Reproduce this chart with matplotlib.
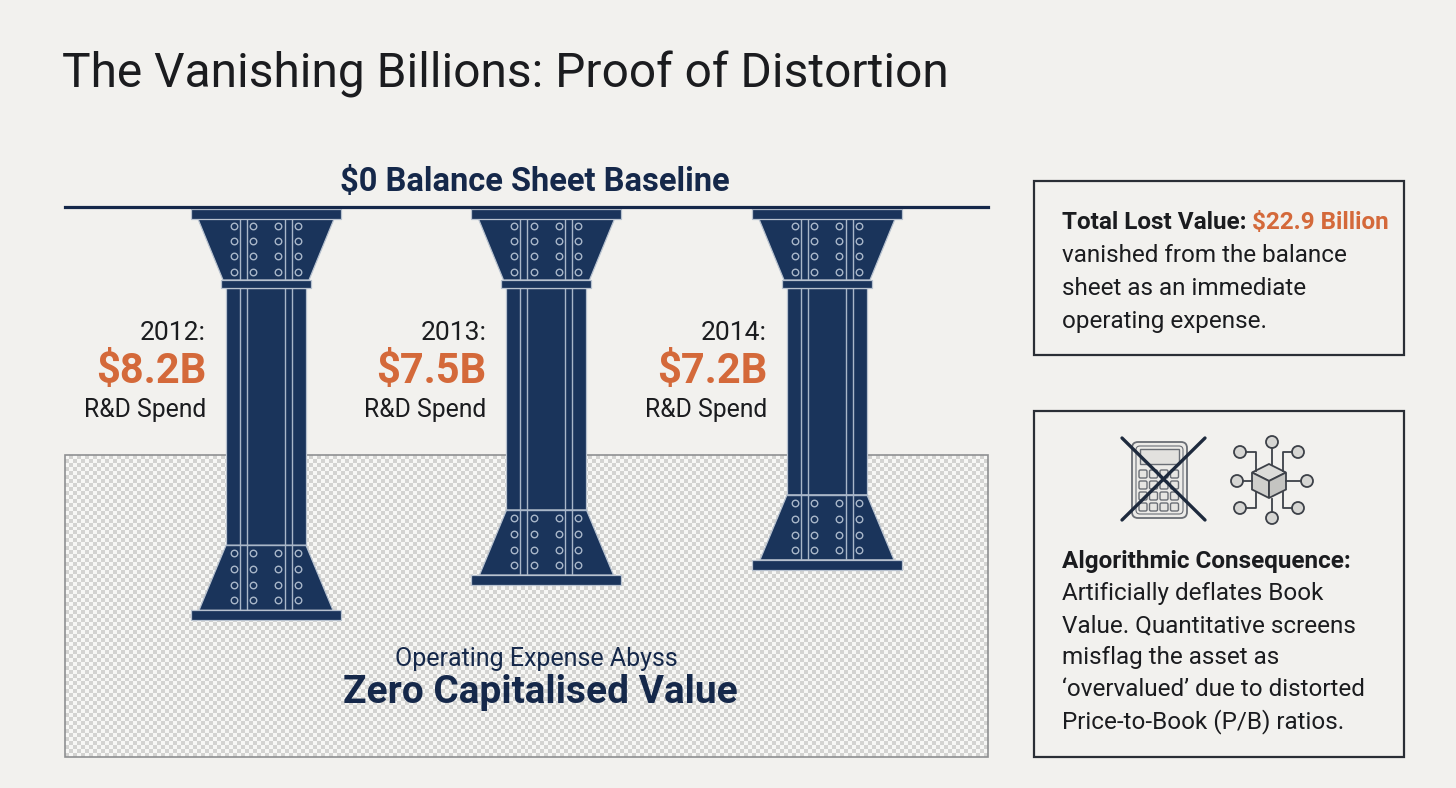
import numpy as np
import matplotlib
matplotlib.use('Agg')
import matplotlib.pyplot as plt
from matplotlib.patches import Polygon, Rectangle, Circle, FancyBboxPatch
from matplotlib.colors import ListedColormap

# ---------------- data ----------------
years = ['2012', '2013', '2014']
rd_spend_bn = [8.2, 7.5, 7.2]
total_lost_bn = 22.9
title = 'The Vanishing Billions: Proof of Distortion'
baseline_label = '$0 Balance Sheet Baseline'
abyss_sub = 'Operating Expense Abyss'
abyss_title = 'Zero Capitalised Value'
box1_head = 'Total Lost Value: '
box1_lines = ['vanished from the balance', 'sheet as an immediate', 'operating expense.']
box2_head = 'Algorithmic Consequence:'
box2_lines = ['Artificially deflates Book', 'Value. Quantitative screens', 'misflag the asset as',
              '\u2018overvalued\u2019 due to distorted', 'Price-to-Book (P/B) ratios.']

# ---------------- style ----------------
BG = '#f2f1ee'
NAVY = '#1a345b'
NAVY_T = '#15284a'
LIGHT = '#a9b7c9'
EDGE = '#b8c2cf'
ORANGE = '#d4693a'
INK = '#1b1c1f'
FONT = 'Roboto'
plt.rcParams['font.family'] = [FONT, 'DejaVu Sans']

W, H = 1456, 788
fig = plt.figure(figsize=(W / 100, H / 100), dpi=100, facecolor=BG)
bg = fig.add_axes([0, 0, 1, 1])
bg.set_xlim(0, W)
bg.set_ylim(H, 0)
bg.axis('off')
bg.set_zorder(0)

# ---------------- abyss region ----------------
AX_L, AX_R, AX_T, AX_B = 65, 988, 207, 757
ABYSS_T = 455
cell = 4
ny = int(round((AX_B - ABYSS_T) / cell))
nx = int(round((AX_R - AX_L) / cell))
yy, xx = np.indices((ny, nx))
checker = (xx + yy) % 2
bg.imshow(checker, extent=(AX_L, AX_R, AX_B, ABYSS_T), cmap=ListedColormap(['#f7f7f5', '#d3d3d1']),
          interpolation='nearest', aspect='auto', zorder=1)
bg.add_patch(Rectangle((AX_L, ABYSS_T), AX_R - AX_L, AX_B - ABYSS_T, fc='none', ec='#8f9092', lw=1.2, zorder=2))
bg.set_xlim(0, W)
bg.set_ylim(H, 0)

bg.text(536, 666, abyss_sub, fontsize=18, color=NAVY_T, ha='center', va='baseline', zorder=3)
bg.text(540, 703, abyss_title, fontsize=28, fontweight='bold', color=NAVY_T,
        ha='center', va='baseline', zorder=3)

# ---------------- title ----------------
bg.text(62, 87, title, fontsize=34.5, color=INK, ha='left', va='baseline')
bg.text(535, 191, baseline_label, fontsize=23.5, fontweight='bold', color=NAVY_T,
        ha='center', va='baseline')

# ---------------- pillar axes (value scale) ----------------
PXB = 50.4     # pixels per billion
XPX = 280.5    # pixels per category step
C0 = 266       # pixel centre of first category
ax = fig.add_axes([AX_L / W, 1 - AX_B / H, (AX_R - AX_L) / W, (AX_B - AX_T) / H])
ax.set_xlim((AX_L - C0) / XPX, (AX_R - C0) / XPX)
ax.set_ylim(-(AX_B - AX_T) / PXB, 0)
ax.axis('off')
ax.set_zorder(1)

ax.axhline(0, color=NAVY_T, lw=2.3, clip_on=False, zorder=6)


def pts(i, lst):
    return [(i + x / XPX, -y / PXB) for x, y in lst]


def rect(hw, y0, y1):
    return [(-hw, y0), (hw, y0), (hw, y1), (-hw, y1)]


for i, (yr, v) in enumerate(zip(years, rd_spend_bn)):
    D = v * PXB
    shaft = rect(40, 81, D - 75)
    top_flare = [(-68, 12), (68, 12), (43, 73), (-43, 73)]
    bot_flare = [(-40, D - 75), (40, D - 75), (67, D - 10), (-67, D - 10)]
    for shape in (shaft, top_flare, bot_flare):
        ax.add_patch(Polygon(pts(i, shape), closed=True, fc=NAVY, ec=EDGE, lw=0.9, zorder=3))
    for xo in (-26, -19, 19, 26):
        ax.plot([i + xo / XPX] * 2, [-12 / PXB, -(D - 10) / PXB], color=LIGHT, lw=1.0, zorder=4)
    ax.plot([i - 40 / XPX, i + 40 / XPX], [-(D - 75) / PXB] * 2, color=LIGHT, lw=1.0, zorder=4)
    for shape in (rect(75, 2, 12), rect(45, 73, 81), rect(75, D - 10, D)):
        ax.add_patch(Polygon(pts(i, shape), closed=True, fc=NAVY, ec=EDGE, lw=0.9, zorder=5))
    bx = np.array([-32, -12.5, 12.5, 32])
    for rows in ([19, 34, 49, 65], [D - 67, D - 51, D - 35, D - 20]):
        X, Y = np.meshgrid(bx, rows)
        ax.scatter(i + X.ravel() / XPX, -Y.ravel() / PXB, s=22, facecolor=NAVY, edgecolor=LIGHT,
                   lw=1.0, zorder=6)
    lx = i - 60 / XPX
    ax.text(lx, -133 / PXB, yr + ':', fontsize=19, color=INK, ha='right', va='baseline')
    ax.text(lx, -176 / PXB, f'${v:.1f}B', fontsize=30, fontweight='bold', color=ORANGE,
            ha='right', va='baseline')
    ax.text(lx, -210 / PXB, 'R&D Spend', fontsize=17.8, color=INK, ha='right', va='baseline')

# ---------------- right boxes ----------------
BOX_X, BOX_W = 1034, 370
bg.add_patch(Rectangle((BOX_X, 181), BOX_W, 174, fc='none', ec='#2a2e35', lw=1.6))
bg.add_patch(Rectangle((BOX_X, 411), BOX_W, 346, fc='none', ec='#2a2e35', lw=1.6))

TX = 1062
FS = 17.5
t1 = bg.text(TX, 229, box1_head, fontsize=FS, fontweight='bold', color=INK, ha='left', va='baseline')
bg.annotate(f'${total_lost_bn:.1f} Billion', xy=(1, 0), xycoords=t1, fontsize=FS, fontweight='bold',
            color=ORANGE, ha='left', va='bottom')
for k, line in enumerate(box1_lines):
    bg.text(TX, 262 + 33 * k, line, fontsize=FS, color=INK, ha='left', va='baseline')

bg.text(TX, 568, box2_head, fontsize=FS, fontweight='bold', color=INK, ha='left', va='baseline')
for k, line in enumerate(box2_lines):
    bg.text(TX, 600 + 32 * k, line, fontsize=FS, color=INK, ha='left', va='baseline')

# ---------------- icons ----------------
ICON_EC = '#6a6e75'
bg.add_patch(FancyBboxPatch((1132, 442), 55, 76, boxstyle='round,pad=0,rounding_size=6',
                            fc='#ecebe8', ec=ICON_EC, lw=1.3))
bg.add_patch(FancyBboxPatch((1136, 446), 47, 68, boxstyle='round,pad=0,rounding_size=4',
                            fc='none', ec=ICON_EC, lw=0.8))
bg.add_patch(Rectangle((1140, 449), 39, 15, fc='#e2e1de', ec=ICON_EC, lw=1.0))
for r in range(4):
    for c in range(4):
        bg.add_patch(FancyBboxPatch((1139 + 10.5 * c, 470 + 11 * r), 8, 8,
                                    boxstyle='round,pad=0,rounding_size=1.5',
                                    fc='#e6e5e2', ec=ICON_EC, lw=1.0))
bg.plot([1122, 1205], [438, 520], color='#1e2a3d', lw=2.4, solid_capstyle='round')
bg.plot([1205, 1122], [438, 520], color='#1e2a3d', lw=2.4, solid_capstyle='round')

NET_EC = '#3d4148'
cx, cy, hw = 1269, 481, 17
links = [
    [(1272, 448), (1272, 465)],
    [(1246, 452), (1256, 452), (1256, 471)],
    [(1292, 452), (1283, 452), (1283, 471)],
    [(1243, 481), (1252, 481)],
    [(1301, 481), (1286, 481)],
    [(1246, 508), (1256, 508), (1256, 492)],
    [(1292, 508), (1283, 508), (1283, 492)],
    [(1272, 512), (1272, 499)],
]
for seg in links:
    sx, sy = zip(*seg)
    bg.plot(sx, sy, color=NET_EC, lw=1.3)
top = [(cx, cy - hw), (cx + hw, cy - hw / 2), (cx, cy), (cx - hw, cy - hw / 2)]
left = [(cx - hw, cy - hw / 2), (cx, cy), (cx, cy + hw), (cx - hw, cy + hw / 2)]
right = [(cx, cy), (cx + hw, cy - hw / 2), (cx + hw, cy + hw / 2), (cx, cy + hw)]
for face, col in ((top, '#dcdcd9'), (left, '#cfcfcc'), (right, '#c4c4c1')):
    bg.add_patch(Polygon(face, closed=True, fc=col, ec=NET_EC, lw=1.3))
nodes = [(1272, 442), (1240, 452), (1298, 452), (1237, 481), (1307, 481),
         (1240, 508), (1298, 508), (1272, 518)]
for (nx_, ny_) in nodes:
    bg.add_patch(Circle((nx_, ny_), 6, fc='#d6d6d3', ec=NET_EC, lw=1.3))

fig.savefig('out.png', dpi=100, facecolor=BG)
